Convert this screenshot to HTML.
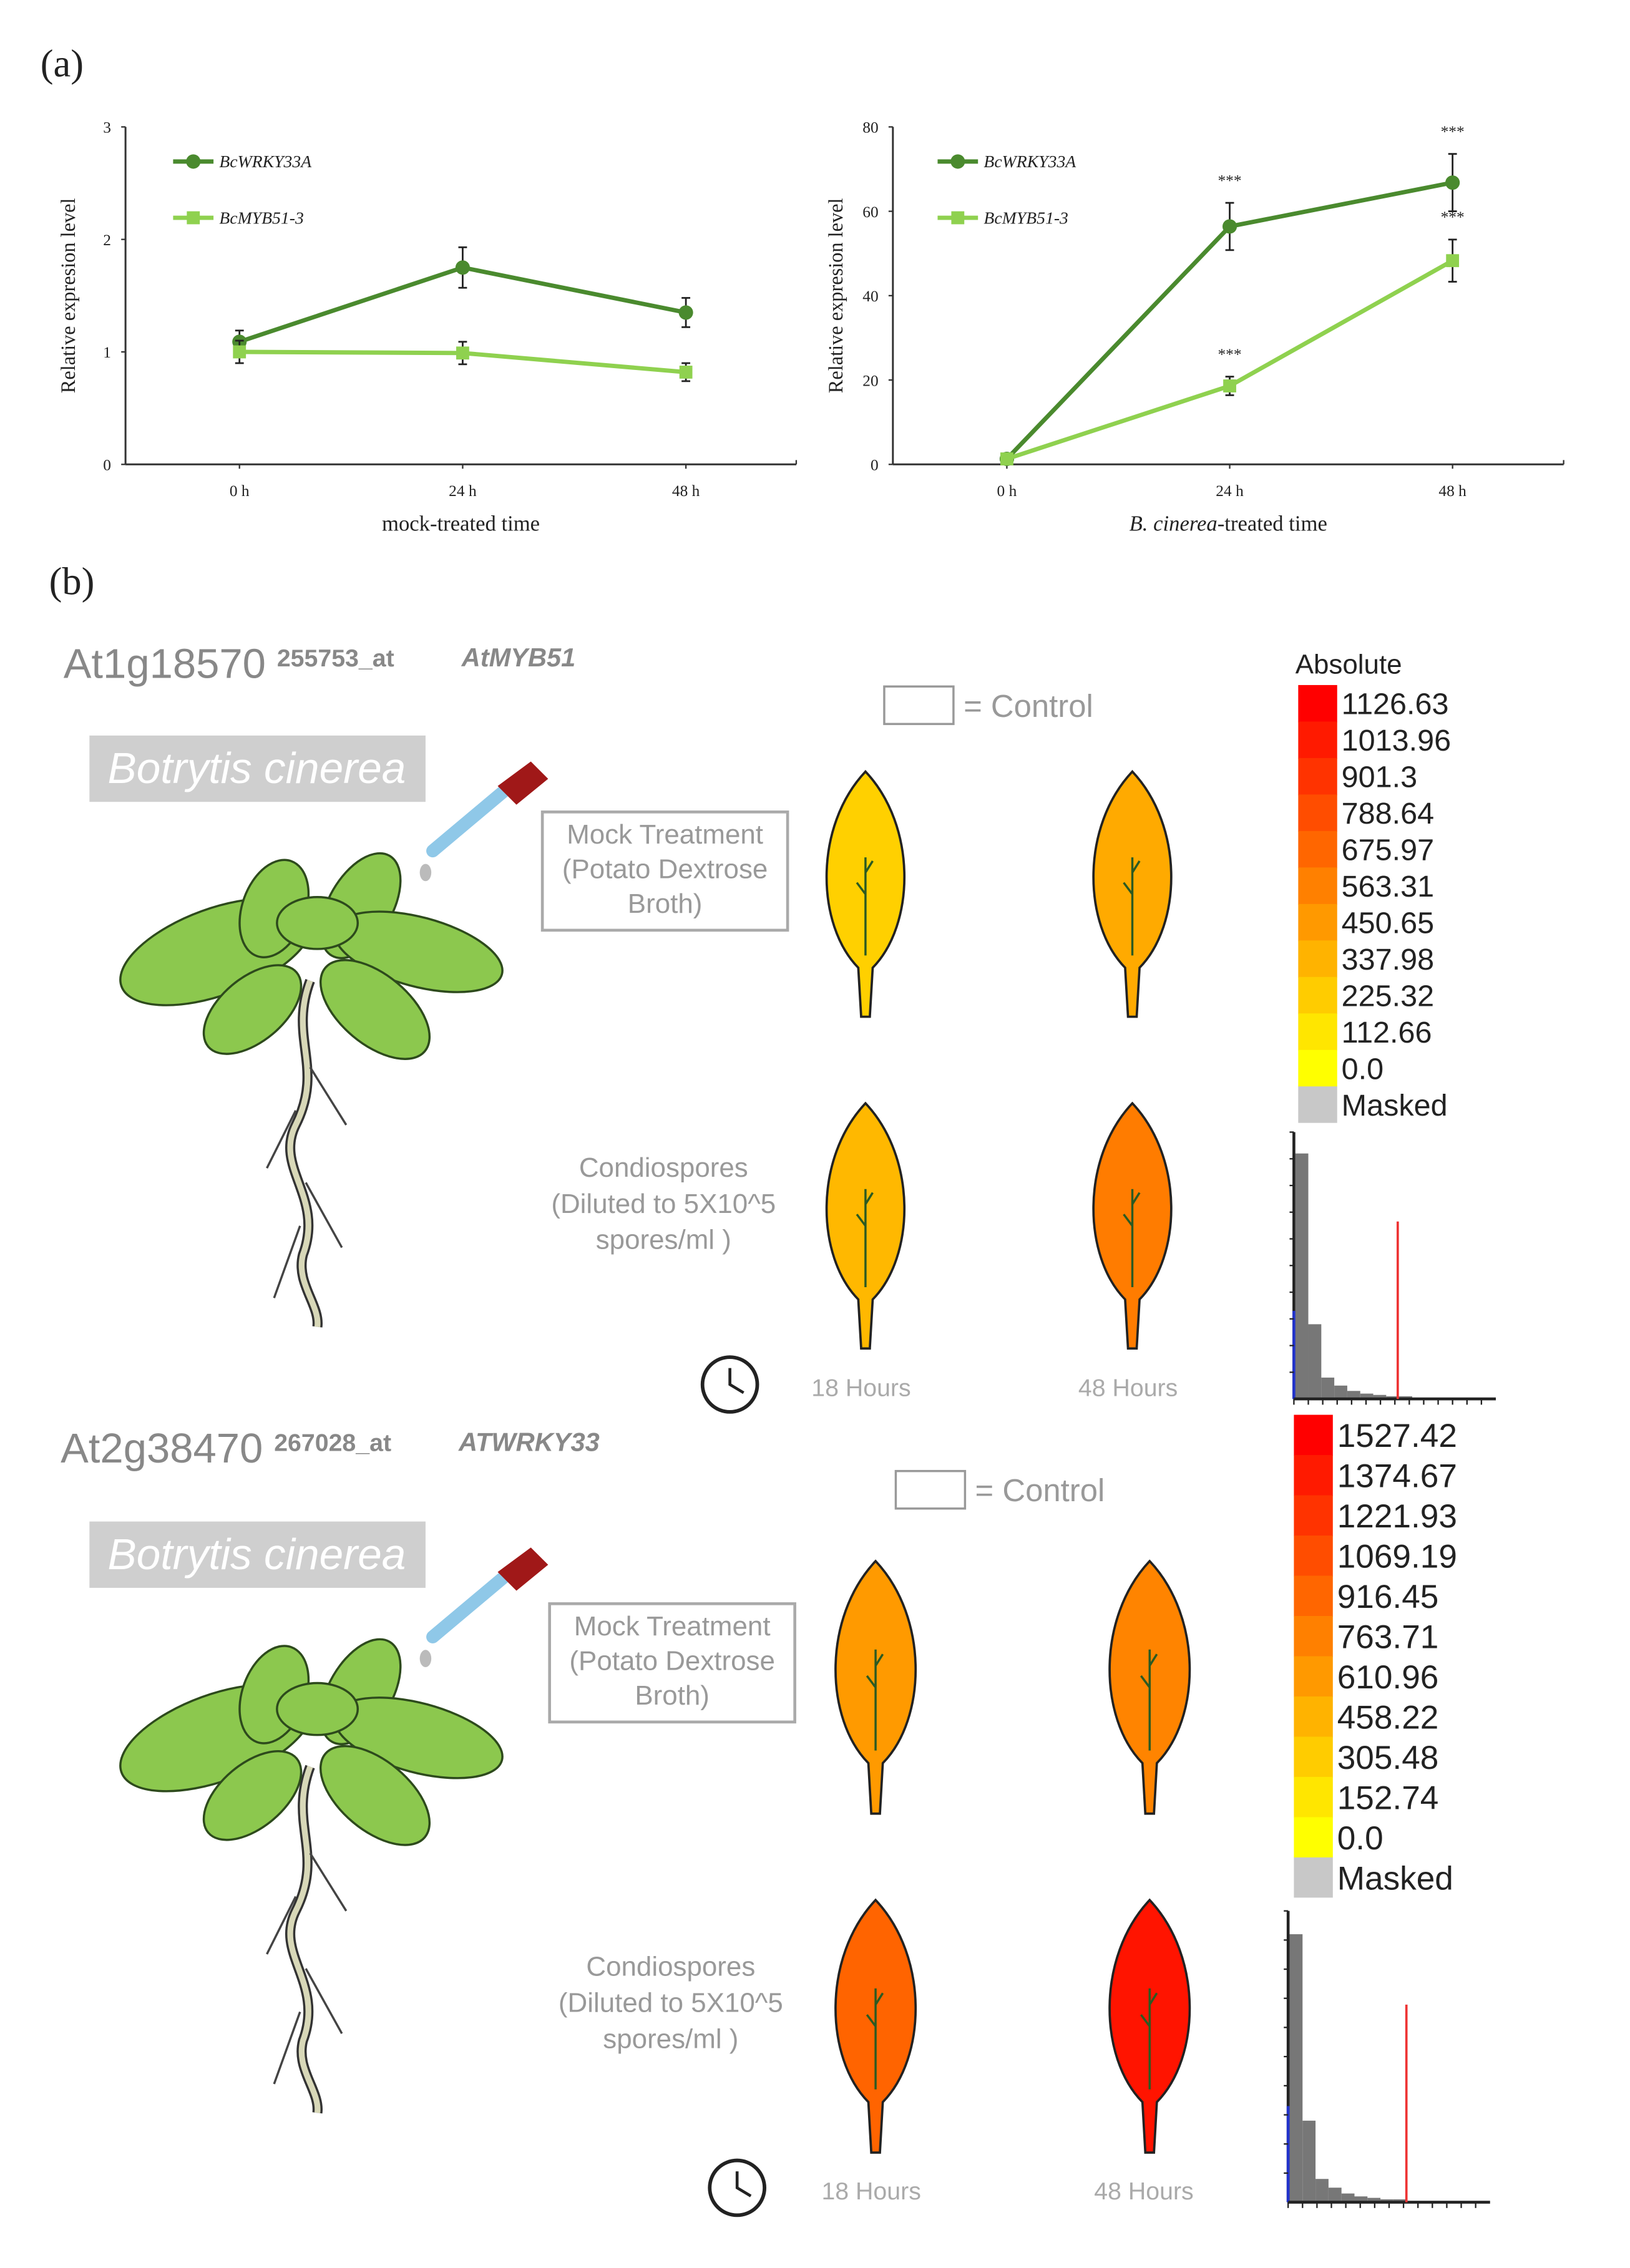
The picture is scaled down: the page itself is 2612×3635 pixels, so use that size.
<!DOCTYPE html>
<html><head><meta charset="utf-8"><style>
html,body{margin:0;padding:0;background:#fff}
svg{display:block}
</style></head><body>
<svg id="fig" xmlns="http://www.w3.org/2000/svg" width="2612" height="3635" viewBox="0 0 1130 1572.6">
<rect x="0" y="0" width="1130" height="1572.6" fill="#fff"/>
<text x="28" y="53" font-family="Liberation Serif, serif" font-size="27" fill="#222">(a)</text>
<text x="34" y="412" font-family="Liberation Serif, serif" font-size="27" fill="#222">(b)</text>
<g id="charts"></g>
<g id="panelb"></g>
</svg>
<script>
// ---- chart data ----
const categories = ["0 h", "24 h", "48 h"];
const mockWrky = [1.09, 1.75, 1.35];
const mockWrkyErr = [0.1, 0.18, 0.13];
const mockMyb = [1.0, 0.99, 0.82];
const mockMybErr = [0.1, 0.1, 0.08];
const mockTicks = [0, 1, 2, 3];
const bcWrky = [1.3, 56.4, 66.8];
const bcWrkyErr = [0, 5.6, 6.8];
const bcMyb = [1.3, 18.6, 48.3];
const bcMybErr = [0, 2.2, 5];
const bcTicks = [0, 20, 40, 60, 80];
const bcWrkySig = ["", "***", "***"];
const bcMybSig = ["", "***", "***"];
const colorbar1 = ["1126.63","1013.96","901.3","788.64","675.97","563.31","450.65","337.98","225.32","112.66","0.0"];
const colorbar2 = ["1527.42","1374.67","1221.93","1069.19","916.45","763.71","610.96","458.22","305.48","152.74","0.0"];

const NS = "http://www.w3.org/2000/svg";
function mk(parent, tag, attrs, name, inter) {
  const el = document.createElementNS(NS, tag);
  for (const k in attrs) el.setAttribute(k, attrs[k]);
  
  
  parent.appendChild(el);
  return el;
}
function txt(parent, x, y, s, size, name, extra) {
  const a = Object.assign({x: x, y: y, 'font-size': size, 'font-family': 'Liberation Serif, serif', fill: '#222'}, extra || {});
  const t = mk(parent, 'text', a, name, false);
  t.textContent = s;
  return t;
}
const DARK = "#4a8a2e", LIGHT = "#8fd14f";

function chart(g, o) {
  const xs = i => o.x0 + (o.x2 - o.x0) * i / (categories.length - 1);
  const ys = v => o.yb - (o.yb - o.yt) * v / o.ymax;
  mk(g, 'line', {x1: o.ax, y1: o.yt, x2: o.ax, y2: o.yb, stroke: '#333', 'stroke-width': 1.3}, 'y-axis', false);
  mk(g, 'line', {x1: o.ax, y1: o.yb, x2: o.axEnd, y2: o.yb, stroke: '#333', 'stroke-width': 1.3}, 'x-axis', false);
  o.ticks.forEach(t => {
    mk(g, 'line', {x1: o.ax - 3, y1: ys(t), x2: o.ax, y2: ys(t), stroke: '#333'}, 'y-tick', false);
    txt(g, o.ax - 10, ys(t) + 4, String(t), 11, 'y-tick-label', {'text-anchor': 'end'});
  });
  categories.forEach((c, i) => {
    mk(g, 'line', {x1: xs(i), y1: o.yb, x2: xs(i), y2: o.yb + 3, stroke: '#333'}, 'x-tick', false);
    txt(g, xs(i), o.yb + 22, c, 11, 'x-tick-label', {'text-anchor': 'middle'});
  });
  mk(g, 'line', {x1: o.axEnd, y1: o.yb - 3, x2: o.axEnd, y2: o.yb, stroke: '#333'}, 'x-axis-end', false);
  txt(g, 0, 0, 'Relative expresion level', 14, 'y-axis-title', {'text-anchor': 'middle', transform: `translate(${o.ax - 35},${(o.yt + o.yb) / 2}) rotate(-90)`});
  const xt = txt(g, (o.ax + o.axEnd) / 2, o.yb + 46, '', 15, 'x-axis-title', {'text-anchor': 'middle'});
  if (o.italicTitle) {
    const s1 = document.createElementNS(NS, 'tspan'); s1.setAttribute('font-style', 'italic'); s1.textContent = 'B. cinerea'; xt.appendChild(s1);
    const s2 = document.createElementNS(NS, 'tspan'); s2.textContent = '-treated time'; xt.appendChild(s2);
  } else xt.textContent = 'mock-treated time';
  const series = [[o.wrky, o.wrkyErr, DARK, 'circle', 'wrky33a', o.wrkySig], [o.myb, o.mybErr, LIGHT, 'square', 'myb51', o.mybSig]];
  series.forEach(([vals, errs, col, mkType, nm, sig]) => {
    const pts = vals.map((v, i) => xs(i) + ',' + ys(v)).join(' ');
    mk(g, 'polyline', {points: pts, fill: 'none', stroke: col, 'stroke-width': 3}, nm + '-line', false);
    vals.forEach((v, i) => {
      const x = xs(i);
      if (errs[i] > 0) {
        mk(g, 'line', {x1: x, y1: ys(v + errs[i]), x2: x, y2: ys(v - errs[i]), stroke: '#222', 'stroke-width': 1.2}, nm + '-errorbar', false);
        mk(g, 'line', {x1: x - 3, y1: ys(v + errs[i]), x2: x + 3, y2: ys(v + errs[i]), stroke: '#222', 'stroke-width': 1.2}, nm + '-errorcap', false);
        mk(g, 'line', {x1: x - 3, y1: ys(v - errs[i]), x2: x + 3, y2: ys(v - errs[i]), stroke: '#222', 'stroke-width': 1.2}, nm + '-errorcap', false);
      }
      if (mkType === 'circle') mk(g, 'circle', {cx: x, cy: ys(v), r: 5, fill: col}, nm + '-point', false);
      else mk(g, 'rect', {x: x - 4.5, y: ys(v) - 4.5, width: 9, height: 9, fill: col}, nm + '-point', false);
      if (sig && sig[i]) txt(g, x, ys(v + errs[i]) - 12, sig[i], 11, 'significance-mark', {'text-anchor': 'middle'});
    });
  });
  [[DARK, 'circle', 'BcWRKY33A', 112], [LIGHT, 'square', 'BcMYB51-3', 151]].forEach(([col, t, lab, y]) => {
    mk(g, 'line', {x1: o.lx, y1: y, x2: o.lx + 28, y2: y, stroke: col, 'stroke-width': 3}, 'legend-line', false);
    if (t === 'circle') mk(g, 'circle', {cx: o.lx + 14, cy: y, r: 5, fill: col}, 'legend-marker', false);
    else mk(g, 'rect', {x: o.lx + 9.5, y: y - 4.5, width: 9, height: 9, fill: col}, 'legend-marker', false);
    txt(g, o.lx + 32, y + 4, lab, 12, 'legend-entry', {'font-style': 'italic'});
  });
}
const charts = document.getElementById('charts');
const c1 = mk(charts, 'g', {}, 'mock-chart', false);
chart(c1, {ax: 87, axEnd: 552, x0: 166, x2: 475.5, yt: 88, yb: 322, ymax: 3, ticks: mockTicks,
  wrky: mockWrky, wrkyErr: mockWrkyErr, myb: mockMyb, mybErr: mockMybErr, lx: 120});
const c2 = mk(charts, 'g', {}, 'bcinerea-chart', false);
chart(c2, {ax: 619, axEnd: 1084, x0: 698, x2: 1007, yt: 88, yb: 322, ymax: 80, ticks: bcTicks,
  wrky: bcWrky, wrkyErr: bcWrkyErr, myb: bcMyb, mybErr: bcMybErr, wrkySig: bcWrkySig, mybSig: bcMybSig, lx: 650, italicTitle: true});

// ---- panel b ----
const pb = document.getElementById('panelb');
const SANS = 'Liberation Sans, sans-serif';
function leaf(g, cx, cy, s, col, name) {
  const h = 85 * s, w = 36 * s;
  const d = `M${cx},${cy - h} C${cx + w},${cy - h * 0.55} ${cx + w * 0.95},${cy + h * 0.25} ${cx + 5},${cy + h * 0.6} L${cx + 3},${cy + h} L${cx - 3},${cy + h} L${cx - 5},${cy + h * 0.6} C${cx - w * 0.95},${cy + h * 0.25} ${cx - w},${cy - h * 0.55} ${cx},${cy - h} Z`;
  mk(g, 'path', {d: d, fill: col, stroke: '#222', 'stroke-width': 1.6}, name, false);
  mk(g, 'path', {d: `M${cx},${cy + h * 0.5} L${cx},${cy - h * 0.3} M${cx},${cy} l-6,-8 M${cx},${cy - 15} l5,-8`, fill: 'none', stroke: '#2b5a22', 'stroke-width': 1.5}, name + '-vein', false);
}
function plant(g, dx, dy) {
  const lc = '#8cc84e';
  const leaves = [[150, 660, 70, 30, -20], [190, 630, 35, 22, -70], [250, 628, 40, 22, -60], [290, 660, 60, 24, 15], [260, 700, 45, 24, 40], [175, 700, 40, 22, -40], [220, 640, 28, 18, 0]];
  const rootD = `M${215 + dx},${680 + dy} C${200 + dx},${720 + dy} ${225 + dx},${740 + dy} ${205 + dx},${780 + dy} C${190 + dx},${810 + dy} ${225 + dx},${830 + dy} ${210 + dx},${870 + dy} C${205 + dx},${890 + dy} ${222 + dx},${905 + dy} ${220 + dx},${920 + dy}`;
  mk(g, 'path', {d: rootD, fill: 'none', stroke: '#333', 'stroke-width': 7}, 'plant-root-outline', false);
  mk(g, 'path', {d: rootD, fill: 'none', stroke: '#d8d8b8', 'stroke-width': 4}, 'plant-root', false);
  mk(g, 'path', {d: `M${205 + dx},${770 + dy} l-20,40 M${212 + dx},${820 + dy} l25,45 M${208 + dx},${850 + dy} l-18,50 M${215 + dx},${740 + dy} l25,40`, fill: 'none', stroke: '#444', 'stroke-width': 1.5}, 'plant-rootlets', false);
  leaves.forEach(([x, y, rx, ry, a]) => mk(g, 'ellipse', {cx: x + dx, cy: y + dy, rx: rx, ry: ry, transform: `rotate(${a} ${x + dx} ${y + dy})`, fill: lc, stroke: '#2d4a1c', 'stroke-width': 1.5}, 'plant-leaf', false));
}
function dropper(g, dx, dy) {
  mk(g, 'line', {x1: 300 + dx, y1: 590 + dy, x2: 350 + dx, y2: 548 + dy, stroke: '#8fc8e8', 'stroke-width': 9, 'stroke-linecap': 'round'}, 'dropper-tube', false);
  mk(g, 'path', {d: `M${345 + dx},${545 + dy} L${368 + dx},${528 + dy} L${380 + dx},${540 + dy} L${358 + dx},${558 + dy} Z`, fill: '#a01818'}, 'dropper-bulb', false);
  mk(g, 'ellipse', {cx: 295 + dx, cy: 605 + dy, rx: 4, ry: 6, fill: '#bbb'}, 'dropper-drop', false);
}
function clock(g, x, y, r) {
  mk(g, 'circle', {cx: x, cy: y, r: r, fill: '#fff', stroke: '#222', 'stroke-width': 2.5}, 'clock-icon', false);
  mk(g, 'path', {d: `M${x},${y - r * 0.6} L${x},${y} L${x + r * 0.5},${y + r * 0.3}`, fill: 'none', stroke: '#222', 'stroke-width': 2}, 'clock-hands', false);
}
function section(o) {
  const g = mk(pb, 'g', {}, o.name, false);
  txt(g, o.idX, o.idY, o.id, 29, 'gene-id', {'font-family': SANS, fill: '#888'});
  txt(g, o.idX + 148, o.idY - 8, o.probe, 17, 'probe-id', {'font-family': SANS, fill: '#888', 'font-weight': 'bold'});
  txt(g, o.idX + 276, o.idY - 8, o.gene, 18, 'gene-name', {'font-family': SANS, fill: '#888', 'font-style': 'italic', 'font-weight': 'bold'});
  mk(g, 'rect', {x: 62, y: o.bY, width: 233, height: 46, fill: '#cfcfcf'}, 'species-box', false);
  txt(g, 178, o.bY + 33, 'Botrytis cinerea', 30, 'species-label', {'font-family': SANS, fill: '#fff', 'font-style': 'italic', 'text-anchor': 'middle'});
  dropper(g, o.dx, o.dy);
  plant(g, o.dx, o.dy);
  mk(g, 'rect', {x: o.mbX, y: o.mbY, width: 170, height: 82, fill: '#fff', stroke: '#aaa', 'stroke-width': 2}, 'mock-treatment-box', false);
  ['Mock Treatment', '(Potato Dextrose', 'Broth)'].forEach((s, i) => txt(g, o.mbX + 85, o.mbY + 22 + i * 24, s, 19, 'mock-treatment-label', {'font-family': SANS, fill: '#999', 'text-anchor': 'middle'}));
  mk(g, 'rect', {x: o.cX, y: o.cY, width: 48, height: 26, fill: '#fff', stroke: '#999', 'stroke-width': 1.5}, 'control-swatch', false);
  txt(g, o.cX + 55, o.cY + 21, '= Control', 22, 'control-label', {'font-family': SANS, fill: '#999'});
  ['Condiospores', '(Diluted to 5X10^5', 'spores/ml )'].forEach((s, i) => txt(g, o.cdX, o.cdY + i * 25, s, 19, 'condiospores-label', {'font-family': SANS, fill: '#999', 'text-anchor': 'middle'}));
  o.leaves.forEach(([x, y, c], i) => leaf(g, x, y, o.ls, c, 'leaf-' + i));
  clock(g, o.clX, o.clY, 19);
  txt(g, o.h1X, o.clY + 8, '18 Hours', 17, 'time-label-18h', {'font-family': SANS, fill: '#aaa', 'text-anchor': 'middle'});
  txt(g, o.h2X, o.clY + 8, '48 Hours', 17, 'time-label-48h', {'font-family': SANS, fill: '#aaa', 'text-anchor': 'middle'});
  if (o.abs) txt(g, 898, o.cbY - 8, 'Absolute', 19, 'colorbar-title', {'font-family': SANS});
  const cols = ['#ff0000', '#ff1a00', '#ff3300', '#ff4d00', '#ff6600', '#ff8000', '#ff9900', '#ffb300', '#ffcc00', '#ffe600', '#ffff00'];
  o.labels.forEach((lab, i) => {
    mk(g, 'rect', {x: o.cbX, y: o.cbY + i * o.step, width: 27, height: o.step + 0.5, fill: cols[i]}, 'colorbar-swatch', false);
    txt(g, o.cbX + 30, o.cbY + i * o.step + o.step * 0.8, lab, o.fs, 'colorbar-label', {'font-family': SANS});
  });
  mk(g, 'rect', {x: o.cbX, y: o.cbY + 11 * o.step, width: 27, height: o.step, fill: '#c8c8c8'}, 'colorbar-masked', false);
  txt(g, o.cbX + 30, o.cbY + 11 * o.step + o.step * 0.8, 'Masked', o.fs, 'colorbar-masked-label', {'font-family': SANS});
  const hx = o.hX, hb = o.hB, ht = o.hT, H = hb - ht;
  const bars = [0.92, 0.28, 0.08, 0.05, 0.03, 0.02, 0.015, 0.01, 0.01];
  bars.forEach((b, i) => mk(g, 'rect', {x: hx + 1 + i * 9, y: hb - H * b, width: 9, height: H * b, fill: '#777'}, 'histogram-bar', false));
  mk(g, 'line', {x1: hx, y1: ht, x2: hx, y2: hb, stroke: '#222', 'stroke-width': 2}, 'histogram-y-axis', false);
  mk(g, 'line', {x1: hx, y1: hb - H * 0.33, x2: hx, y2: hb, stroke: '#2233cc', 'stroke-width': 2}, 'histogram-blue-marker', false);
  mk(g, 'line', {x1: hx, y1: hb, x2: hx + 140, y2: hb, stroke: '#222', 'stroke-width': 2}, 'histogram-x-axis', false);
  for (let k = 0; k < 14; k++) mk(g, 'line', {x1: hx + 10 * k, y1: hb, x2: hx + 10 * k, y2: hb + 4, stroke: '#222'}, 'histogram-tick', false);
  for (let k = 0; k < 10; k++) mk(g, 'line', {x1: hx - 3, y1: ht + k * H / 10, x2: hx, y2: ht + k * H / 10, stroke: '#222'}, 'histogram-ytick', false);
  mk(g, 'line', {x1: o.rX, y1: o.rT, x2: o.rX, y2: hb, stroke: '#e33', 'stroke-width': 1.6}, 'histogram-sample-marker', false);
}
section({name: 'at1g18570-section', id: 'At1g18570', probe: '255753_at', gene: 'AtMYB51', idX: 44, idY: 470, bY: 510, dx: 0, dy: 0,
  mbX: 376, mbY: 563, cX: 613, cY: 476, cdX: 460, cdY: 816, ls: 1,
  leaves: [[600, 620, '#ffd000'], [785, 620, '#ffaa00'], [600, 850, '#ffb800'], [785, 850, '#ff7c00']],
  clX: 506, clY: 960, h1X: 597, h2X: 782, abs: true, cbX: 900, cbY: 475, step: 25.3, fs: 21, labels: colorbar1,
  hX: 897, hT: 785, hB: 970, rX: 969, rT: 847});
section({name: 'at2g38470-section', id: 'At2g38470', probe: '267028_at', gene: 'ATWRKY33', idX: 42, idY: 1014, bY: 1055, dx: 0, dy: 545,
  mbX: 381, mbY: 1112, cX: 621, cY: 1020, cdX: 465, cdY: 1370, ls: 1.03,
  leaves: [[607, 1170, '#ff9a00'], [797, 1170, '#ff8400'], [607, 1405, '#ff6400'], [797, 1405, '#ff1400']],
  clX: 511, clY: 1517, h1X: 604, h2X: 793, abs: false, cbX: 897, cbY: 981, step: 27.9, fs: 23, labels: colorbar2,
  hX: 893, hT: 1325, hB: 1527, rX: 975, rT: 1390});
</script>
</body></html>
